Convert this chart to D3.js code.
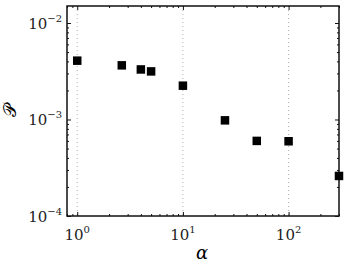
<!DOCTYPE html>
<html><head><meta charset="utf-8">
<script src="https://cdn.jsdelivr.net/npm/d3@7"></script>
<style>body{margin:0;background:#fff}svg{display:block}</style>
</head><body>
<script>
const alphaValues = [1, 2.64, 4, 5, 10, 25, 50, 100, 300];
const pValues = [4.07e-3, 3.64e-3, 3.30e-3, 3.15e-3, 2.24e-3, 9.8e-4, 6.0e-4, 5.95e-4, 2.6e-4];
const xMajorTicks = [1, 10, 100];
const xTickExponents = ["0", "1", "2"];
const yMajorTicks = [1e-4, 1e-3, 1e-2];
const yTickExponents = ["\u22124", "\u22123", "\u22122"];

const W = 349, H = 265;
const m = {left: 67, right: 10, top: 6, bottom: 49};
const svg = d3.select("body").append("svg").attr("width", W).attr("height", H);
const x = d3.scaleLog().domain([0.8, 300]).range([m.left, W - m.right]);
const y = d3.scaleLog().domain([1e-4, 1.5e-2]).range([H - m.bottom, m.top]);
const font = "DejaVu Serif";

// gridlines
svg.append("g").selectAll("line").data(xMajorTicks).join("line")
  .attr("x1", d => x(d)).attr("x2", d => x(d))
  .attr("y1", m.top).attr("y2", H - m.bottom)
  .attr("stroke", "#999").attr("stroke-width", 0.8).attr("stroke-dasharray", "1,3");

// minor ticks
const xMinor = [];
[0.1, 1, 10, 100].forEach(b => { for (let k = 2; k <= 9; k++) { const v = b * k; if (v >= 0.8 && v <= 300) xMinor.push(v); } });
const yMinor = [];
[1e-4, 1e-3, 1e-2].forEach(b => { for (let k = 2; k <= 9; k++) { const v = b * k; if (v <= 1.5e-2) yMinor.push(v); } });

const axB = d3.axisBottom(x).tickValues(xMajorTicks).tickSize(-4).tickFormat("");
const axT = d3.axisTop(x).tickValues(xMajorTicks).tickSize(-4).tickFormat("");
const axBm = d3.axisBottom(x).tickValues(xMinor).tickSize(-2).tickFormat("");
const axTm = d3.axisTop(x).tickValues(xMinor).tickSize(-2).tickFormat("");
const axL = d3.axisLeft(y).tickValues(yMajorTicks).tickSize(-4).tickFormat("");
const axR = d3.axisRight(y).tickValues(yMajorTicks).tickSize(-4).tickFormat("");
const axLm = d3.axisLeft(y).tickValues(yMinor).tickSize(-2).tickFormat("");
const axRm = d3.axisRight(y).tickValues(yMinor).tickSize(-2).tickFormat("");

function put(ax, tr) {
  const g = svg.append("g").attr("transform", tr).call(ax);
  g.select(".domain").remove();
  g.selectAll("line").attr("stroke", "#111").attr("stroke-width", 1);
}
put(axB, `translate(0,${H - m.bottom})`);
put(axT, `translate(0,${m.top})`);
put(axBm, `translate(0,${H - m.bottom})`);
put(axTm, `translate(0,${m.top})`);
put(axL, `translate(${m.left},0)`);
put(axR, `translate(${W - m.right},0)`);
put(axLm, `translate(${m.left},0)`);
put(axRm, `translate(${W - m.right},0)`);

// frame
svg.append("rect").attr("x", m.left).attr("y", m.top)
  .attr("width", W - m.left - m.right).attr("height", H - m.top - m.bottom)
  .attr("fill", "none").attr("stroke", "#111").attr("stroke-width", 1.5);

// tick labels x
const xl = svg.append("g").selectAll("text").data(xMajorTicks).join("text")
  .attr("x", d => x(d)).attr("y", 240).attr("text-anchor", "middle")
  .style("font-family", font).attr("font-size", 15).attr("fill", "#222");
xl.append("tspan").text("10");
xl.append("tspan").attr("dy", -7).attr("font-size", 10).text((d, i) => xTickExponents[i]);

// tick labels y
const yl = svg.append("g").selectAll("text").data(yMajorTicks).join("text")
  .attr("x", 62).attr("y", d => y(d) + 6).attr("text-anchor", "end")
  .style("font-family", font).attr("font-size", 15).attr("fill", "#222");
yl.append("tspan").text("10");
yl.append("tspan").attr("dy", -7).attr("font-size", 10).text((d, i) => yTickExponents[i]);

// axis titles
svg.append("text").attr("x", 202).attr("y", 259).attr("text-anchor", "middle")
  .style("font-family", font).attr("font-style", "italic").attr("font-size", 18).text("\u03B1");
svg.append("text").attr("transform", "translate(16,110) rotate(-90)").attr("text-anchor", "middle")
  .style("font-family", "DejaVu Sans").attr("font-size", 18).text("\uD835\uDCAB");

// markers
const s = 8.5;
svg.append("g").selectAll("rect").data(alphaValues).join("rect")
  .attr("x", (d) => x(d) - s / 2).attr("y", (d, i) => y(pValues[i]) - s / 2)
  .attr("width", s).attr("height", s).attr("fill", "#000");
</script>
</body></html>
